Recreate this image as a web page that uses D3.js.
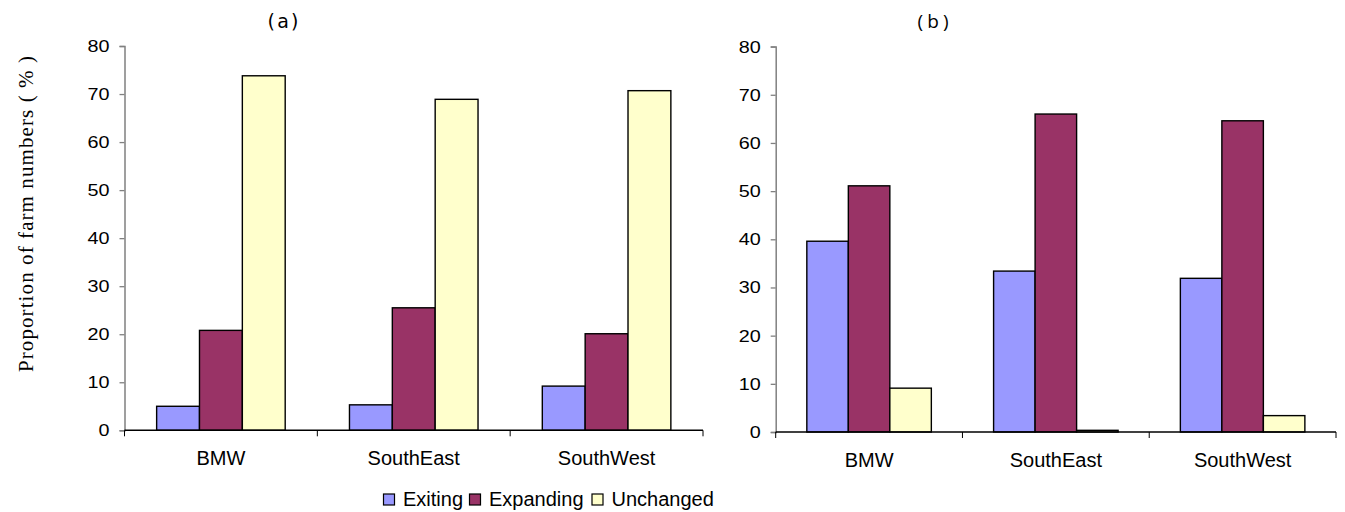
<!DOCTYPE html>
<html><head><meta charset="utf-8">
<script src="https://cdn.jsdelivr.net/npm/d3@7"></script>
<style>body{margin:0;background:#fff;} svg{display:block;}</style>
</head><body>
<svg id="c" width="1345" height="512"></svg>
<script>
const categories = ["BMW", "SouthEast", "SouthWest"];
const seriesNames = ["Exiting", "Expanding", "Unchanged"];
const seriesColors = ["#9999FF", "#993366", "#FFFFCC"];
// panel (a)
const exitingA = [5.0, 5.3, 9.2];
const expandingA = [20.8, 25.5, 20.1];
const unchangedA = [73.8, 68.9, 70.7];
// panel (b)
const exitingB = [39.6, 33.4, 31.9];
const expandingB = [51.1, 66.0, 64.6];
const unchangedB = [9.1, 0.35, 3.4];
const yTicks = [0, 10, 20, 30, 40, 50, 60, 70, 80];

const svg = d3.select("#c");

function panel(opts) {
  const {left, right, top, bottom, data, title, titleX, titleFont} = opts;
  const g = svg.append("g");
  const x0 = d3.scaleBand().domain(categories).range([left, right]).padding(0);
  const x1 = d3.scaleBand().domain(seriesNames).range([0, x0.bandwidth()])
    .paddingInner(0).paddingOuter(0.75);
  const y = d3.scaleLinear().domain([0, 80]).range([bottom, top]);

  seriesNames.forEach((s, si) => {
    g.append("g").selectAll("rect").data(categories).join("rect")
      .attr("x", c => x0(c) + x1(s))
      .attr("width", x1.bandwidth())
      .attr("y", (c, i) => y(data[si][i]))
      .attr("height", (c, i) => bottom - y(data[si][i]))
      .attr("fill", seriesColors[si])
      .attr("stroke", "#000")
      .attr("stroke-width", 1.4);
  });

  const ya = g.append("g").attr("transform", `translate(${left},0)`)
    .call(d3.axisLeft(y).tickValues(yTicks).tickSize(5).tickPadding(10).tickFormat(d3.format("d")));
  ya.select(".domain").attr("stroke", "#808080").attr("stroke-width", 1.5);
  ya.selectAll(".tick line").attr("stroke", "#808080").attr("stroke-width", 1.3);
  ya.selectAll("text").attr("font-family", "'Liberation Sans', Arial, sans-serif")
    .attr("font-size", 17).attr("fill", "#000")
    .attr("textLength", d => String(d).length * 11).attr("lengthAdjust", "spacingAndGlyphs");

  const bounds = categories.map(c => x0(c)).concat([right]);
  const xa = g.append("g").attr("transform", `translate(0,${bottom})`);
  xa.append("line").attr("x1", left).attr("x2", right).attr("y1", 0).attr("y2", 0)
    .attr("stroke", "#000").attr("stroke-width", 1.4);
  xa.selectAll("line.tk").data(bounds).join("line").attr("class", "tk")
    .attr("x1", d => d).attr("x2", d => d).attr("y1", 0).attr("y2", 6)
    .attr("stroke", "#000").attr("stroke-width", 1);
  xa.selectAll("text").data(categories).join("text")
    .attr("x", c => x0(c) + x0.bandwidth() / 2)
    .attr("y", 35)
    .attr("text-anchor", "middle")
    .attr("font-family", "'Liberation Sans', Arial, sans-serif")
    .attr("font-size", 20)
    .text(c => c);

  svg.append("text").attr("x", titleX).attr("y", 28).attr("text-anchor", "middle")
    .attr("font-family", titleFont).attr("font-size", 19)
    .attr("textLength", 31).attr("lengthAdjust", "spacing").text(title);
}

panel({left: 124.5, right: 703, top: 46, bottom: 430.3,
  data: [exitingA, expandingA, unchangedA], title: "(a)", titleX: 283,
  titleFont: "'DejaVu Sans', Verdana, sans-serif"});
panel({left: 775.7, right: 1336, top: 46.6, bottom: 432,
  data: [exitingB, expandingB, unchangedB], title: "(b)", titleX: 933,
  titleFont: "'Open Sans', 'Liberation Sans', sans-serif"});

svg.append("text")
  .attr("transform", "translate(33,214) rotate(-90)")
  .attr("text-anchor", "middle")
  .attr("font-family", "'Liberation Serif', 'Times New Roman', serif")
  .attr("font-size", 21)
  .attr("textLength", 316).attr("lengthAdjust", "spacing")
  .text("Proportion of farm numbers ( % )");

const legendX = [383.5, 469.5, 592];
const lg = svg.append("g");
seriesNames.forEach((s, i) => {
  lg.append("rect").attr("x", legendX[i]).attr("y", 494).attr("width", 11).attr("height", 11)
    .attr("fill", seriesColors[i]).attr("stroke", "#000").attr("stroke-width", 1.2);
  lg.append("text").attr("x", legendX[i] + 19.5).attr("y", 506)
    .attr("font-family", "'Liberation Sans', Arial, sans-serif").attr("font-size", 20).text(s);
});
</script>
</body></html>
